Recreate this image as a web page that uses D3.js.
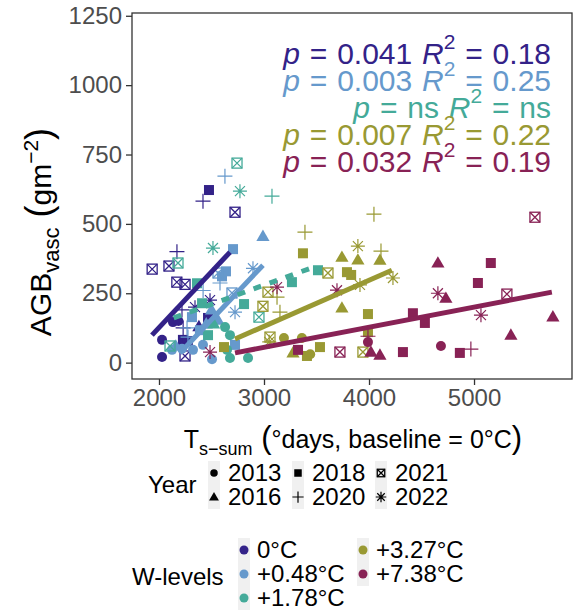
<!DOCTYPE html>
<html>
<head>
<meta charset="utf-8">
<script src="https://cdn.jsdelivr.net/npm/d3@7"></script>
<style>
  body { margin: 0; background: #fff; }
  svg { font-family: "Liberation Sans", Arial, sans-serif; }
</style>
</head>
<body>
<svg id="s" width="573" height="610"></svg>
<script>
// Categories
const levels = ["0°C", "+0.48°C", "+1.78°C", "+3.27°C", "+7.38°C"];
const levelColors = ["#332288", "#6699CC", "#44AA99", "#999933", "#882255"];
const years = [2013, 2016, 2018, 2020, 2021, 2022];
const xTicks = [2000, 3000, 4000, 5000];
const yTicks = [0, 250, 500, 750, 1000, 1250];

// Points: [Ts-sum, AGB, year]
const pts0 = [
  [1935, 337, 2021], [2095, 348, 2021], [2170, 290, 2021], [2248, 282, 2021], [2248, 24, 2021], [2724, 542, 2021],
  [2476, 622, 2018], [2467, 161, 2018], [2228, 82, 2018], [2275, 78, 2018],
  [2419, 582, 2020], [2171, 400, 2020], [2219, 190, 2020], [2230, 125, 2020],
  [2486, 225, 2022], [2343, 200, 2022],
  [2029, 82, 2013], [2029, 20, 2013], [2133, 146, 2013], [2185, 150, 2013],
  [2380, 130, 2016]
];
const pts048 = [
  [2628, 672, 2020], [2990, 455, 2016], [2705, 409, 2018], [2638, 329, 2018], [2600, 311, 2018],
  [2895, 340, 2022], [2562, 323, 2021], [2581, 287, 2020], [2695, 251, 2021], [2724, 182, 2022],
  [2314, 164, 2018], [2390, 117, 2018], [2562, 153, 2016], [2450, 140, 2016], [2124, 46, 2013],
  [2219, 50, 2013], [2324, 46, 2013], [2419, 64, 2013], [2505, 12, 2013], [2724, 64, 2018],
  [2267, 125, 2020], [2276, 92, 2020], [2420, 260, 2020], [2160, 60, 2016], [2500, 190, 2016]
];
const pts178 = [
  [2743, 719, 2021], [2771, 618, 2022], [3076, 600, 2020], [2514, 413, 2022], [2181, 359, 2021],
  [2362, 286, 2018], [2410, 214, 2018], [2810, 211, 2018], [2467, 99, 2018], [2105, 60, 2021],
  [2952, 164, 2021], [2629, 128, 2013], [2676, 99, 2013], [2648, 46, 2013], [2676, 17, 2013],
  [2848, 17, 2013], [3266, 290, 2018], [3514, 333, 2018], [2520, 140, 2016]
];
const pts327 = [
  [4047, 535, 2020], [3894, 420, 2022], [4114, 402, 2020], [3742, 380, 2016], [3894, 370, 2016],
  [4104, 369, 2016], [3790, 326, 2018], [3830, 316, 2018], [3609, 323, 2021], [3914, 280, 2022],
  [4228, 305, 2022], [3742, 197, 2016], [3990, 175, 2018], [3990, 110, 2018], [3942, 38, 2021],
  [3276, 35, 2016], [3409, 24, 2018], [3533, 56, 2018], [3190, 89, 2013], [3361, 89, 2013],
  [3057, 92, 2021], [3050, 75, 2022], [3038, 254, 2021], [2990, 203, 2021], [3124, 236, 2020],
  [3152, 182, 2020], [3371, 394, 2018], [3390, 470, 2020], [2619, 56, 2018], [3440, 30, 2013]
];
const pts738 = [
  [5580, 524, 2021], [4656, 359, 2016], [5160, 359, 2018], [5037, 287, 2018], [4656, 250, 2022],
  [4732, 232, 2016], [5313, 247, 2021], [5751, 165, 2016], [5066, 171, 2022], [4418, 178, 2018],
  [4532, 143, 2018], [5351, 99, 2016], [4685, 60, 2013], [4970, 49, 2020], [4865, 35, 2018],
  [4323, 38, 2018], [3990, 74, 2013], [4018, 38, 2016], [4104, 27, 2016], [3324, 46, 2018],
  [3723, 38, 2021], [3695, 261, 2022], [3124, 272, 2022], [2486, 38, 2022], [3990, 95, 2020]
];
const allPts = [pts0, pts048, pts178, pts327, pts738];

// Fitted lines per level
const fitX0 = [1933, 2200, 2140, 2724, 2724];
const fitX1 = [2676, 2990, 3500, 4218, 5741];
const fitY0 = [99, 35, 161, 85, 35];
const fitY1 = [398, 351, 348, 333, 254];
const fitSig = [true, true, false, true, true];

// Annotation labels
const pLabels = ["0.041", "0.003", "ns", "0.007", "0.032"];
const r2Labels = ["0.18", "0.25", "ns", "0.22", "0.19"];

const svg = d3.select("#s");
const L = 132, R = 572, T = 13, B = 379;
const x = d3.scaleLinear().domain([1743, 5933]).range([L, R]);
const y = d3.scaleLinear().domain([-59, 1260]).range([B, T]);

const shapeOf = {2013: "circle", 2016: "triangle", 2018: "square", 2020: "plus", 2021: "boxx", 2022: "star"};

function drawShape(g, year, color, k) {
  const s = shapeOf[year];
  if (s === "circle") {
    g.append("circle").attr("r", 5 * k).attr("fill", color);
  } else if (s === "square") {
    g.append("rect").attr("x", -5 * k).attr("y", -5 * k).attr("width", 10 * k).attr("height", 10 * k).attr("fill", color);
  } else if (s === "triangle") {
    g.append("path").attr("d", `M0,${-6.8 * k}L${6.6 * k},${4.6 * k}L${-6.6 * k},${4.6 * k}Z`).attr("fill", color);
  } else if (s === "plus") {
    const a = 7.5 * k;
    g.append("path").attr("d", `M${-a},0H${a}M0,${-a}V${a}`).attr("stroke", color).attr("stroke-width", 1.2).attr("fill", "none");
  } else if (s === "boxx") {
    const a = 5 * k;
    g.append("rect").attr("x", -a).attr("y", -a).attr("width", 2 * a).attr("height", 2 * a)
      .attr("fill", "none").attr("stroke", color).attr("stroke-width", 1.3);
    g.append("path").attr("d", `M${-a},${-a}L${a},${a}M${a},${-a}L${-a},${a}`).attr("stroke", color).attr("stroke-width", 1.3);
  } else if (s === "star") {
    const a = 7 * k, b = 5 * k;
    g.append("path").attr("d", `M${-a},0H${a}M0,${-a}V${a}M${-b},${-b}L${b},${b}M${b},${-b}L${-b},${b}`)
      .attr("stroke", color).attr("stroke-width", 1.2).attr("fill", "none");
  }
}

// Panel background
svg.append("rect").attr("x", L).attr("y", T).attr("width", R - L).attr("height", B - T).attr("fill", "#fff");

// Points
const flat = [];
allPts.forEach((arr, i) => arr.forEach(d => flat.push({x: d[0], y: d[1], year: d[2], color: levelColors[i]})));
svg.append("g").selectAll("g").data(flat).join("g")
  .attr("transform", d => `translate(${x(d.x)},${y(d.y)})`)
  .each(function (d) { drawShape(d3.select(this), d.year, d.color, 1); });

// Fit lines
svg.append("g").selectAll("line").data(levels).join("line")
  .attr("x1", (d, i) => x(fitX0[i])).attr("y1", (d, i) => y(fitY0[i]))
  .attr("x2", (d, i) => x(fitX1[i])).attr("y2", (d, i) => y(fitY1[i]))
  .attr("stroke", (d, i) => levelColors[i])
  .attr("stroke-width", 5)
  .attr("stroke-dasharray", (d, i) => fitSig[i] ? null : "8,9");

// Panel border
svg.append("rect").attr("x", L).attr("y", T).attr("width", R - L).attr("height", B - T)
  .attr("fill", "none").attr("stroke", "#333").attr("stroke-width", 1.3);

// Axes
const xAxis = svg.append("g").attr("transform", `translate(0,${B})`)
  .call(d3.axisBottom(x).tickValues(xTicks).tickSize(6).tickPadding(4).tickFormat(d3.format("d")));
const yAxis = svg.append("g").attr("transform", `translate(${L},0)`)
  .call(d3.axisLeft(y).tickValues(yTicks).tickSize(6).tickPadding(4).tickFormat(d3.format("d")));
[xAxis, yAxis].forEach(a => {
  a.select(".domain").remove();
  a.selectAll(".tick line").attr("stroke", "#333").attr("stroke-width", 1.3);
  a.selectAll(".tick text").attr("fill", "#4d4d4d").attr("font-size", 24).attr("font-family", "Liberation Sans, Arial, sans-serif");
});

// Annotations
const ann = svg.append("g");
const rowY = [64, 91, 118, 145, 172];
levels.forEach((lv, i) => {
  const t = ann.append("text").attr("x", 551).attr("y", rowY[i]).attr("text-anchor", "end")
    .attr("fill", levelColors[i]).attr("font-size", 30).attr("word-spacing", 1.5);
  t.append("tspan").attr("font-style", "italic").text("p");
  t.append("tspan").text(" = " + pLabels[i] + " ");
  t.append("tspan").attr("font-style", "italic").text("R");
  t.append("tspan").attr("font-size", 21).attr("dy", -15).text("2");
  t.append("tspan").attr("dy", 15).text(" = " + r2Labels[i]);
});

// Axis titles
const xt = svg.append("text").attr("x", 353).attr("y", 448).attr("text-anchor", "middle").attr("font-size", 25).attr("fill", "#000");
xt.append("tspan").text("T");
xt.append("tspan").attr("font-size", 18).attr("dy", 7).text("s\u2212sum");
xt.append("tspan").attr("font-size", 31).attr("dy", -7).text(" (");
xt.append("tspan").attr("font-size", 25).text("°days, baseline = 0°C");
xt.append("tspan").attr("font-size", 31).text(")");

const yt = svg.append("text").attr("transform", "translate(51,232) rotate(-90)").attr("text-anchor", "middle")
  .attr("font-size", 30).attr("fill", "#000");
yt.append("tspan").text("AGB");
yt.append("tspan").attr("font-size", 22).attr("dy", 8).text("vasc");
yt.append("tspan").attr("font-size", 36).attr("dy", -8).text(" (");
yt.append("tspan").attr("font-size", 30).text("gm");
yt.append("tspan").attr("font-size", 21).attr("dy", -13).text("\u22122");
yt.append("tspan").attr("font-size", 36).attr("dy", 13).text(")");

// Year legend
const yearLeg = svg.append("g");
yearLeg.append("text").attr("x", 148).attr("y", 485).attr("dy", "0.35em").attr("font-size", 24).text("Year");
const keyX = [208, 292, 375], textX = [228, 312, 395], rowYr = [473, 497];
years.forEach((yr, i) => {
  const c = Math.floor(i / 2), r = i % 2;
  yearLeg.append("rect").attr("x", keyX[c]).attr("y", rowYr[r] - 12).attr("width", 12).attr("height", 24).attr("fill", "#f0f0f0");
  const g = yearLeg.append("g").attr("transform", `translate(${keyX[c] + 6},${rowYr[r]})`);
  drawShape(g, yr, "#000", 0.75);
  yearLeg.append("text").attr("x", textX[c]).attr("y", rowYr[r]).attr("dy", "0.35em").attr("font-size", 24).text(yr);
});

// W-levels legend
const wLeg = svg.append("g");
wLeg.append("text").attr("x", 132).attr("y", 577).attr("dy", "0.35em").attr("font-size", 24).text("W-levels");
const wKeyX = [238, 357], wTextX = [257, 376], wRowY = [550, 574, 598];
levels.forEach((lv, i) => {
  const c = i < 3 ? 0 : 1, r = i < 3 ? i : i - 3;
  wLeg.append("rect").attr("x", wKeyX[c]).attr("y", wRowY[r] - 12).attr("width", 12).attr("height", 24).attr("fill", "#f0f0f0");
  wLeg.append("circle").attr("cx", wKeyX[c] + 6).attr("cy", wRowY[r]).attr("r", 4.5).attr("fill", levelColors[i]);
  wLeg.append("text").attr("x", wTextX[c]).attr("y", wRowY[r]).attr("dy", "0.35em").attr("font-size", 24).text(lv);
});
</script>
</body>
</html>
